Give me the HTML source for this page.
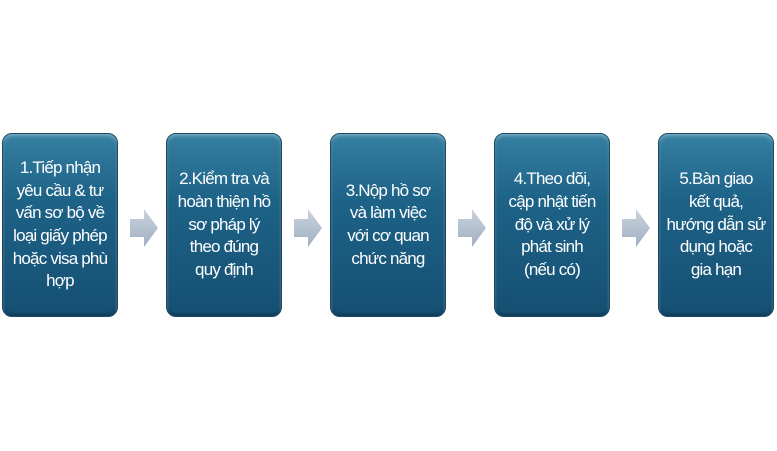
<!DOCTYPE html>
<html><head><meta charset="utf-8"><style>
body{margin:0;width:777px;height:451px;background:#fff;position:relative;overflow:hidden;font-family:"Liberation Sans Narrow","Liberation Sans",sans-serif;}
.b{position:absolute;top:133px;width:116px;height:184px;border-radius:10px;background:linear-gradient(180deg,#3580a2 0%,#1e6388 35%,#154f72 100%);border:1px solid #184a66;box-shadow:inset 0 2px 3px rgba(255,255,255,0.35),inset 0 -2px 3px rgba(0,0,0,0.3);display:flex;align-items:center;justify-content:center;text-align:center;color:#fff;font-size:17px;line-height:22.7px;letter-spacing:-0.8px;box-sizing:border-box;padding:0;white-space:nowrap;}
.a{position:absolute;top:209px;}
</style></head><body>
<div class="b" style="left:2px">1.Tiếp nhận<br>yêu cầu &amp; tư<br>vấn sơ bộ về<br>loại giấy phép<br>hoặc visa phù<br>hợp</div>
<div class="b" style="left:166px">2.Kiểm tra và<br>hoàn thiện hồ<br>sơ pháp lý<br>theo đúng<br>quy định</div>
<div class="b" style="left:330px">3.Nộp hồ sơ<br>và làm việc<br>với cơ quan<br>chức năng</div>
<div class="b" style="left:494px">4.Theo dõi,<br>cập nhật tiến<br>độ và xử lý<br>phát sinh<br>(nếu có)</div>
<div class="b" style="left:658px">5.Bàn giao<br>kết quả,<br>hướng dẫn sử<br>dụng hoặc<br>gia hạn</div>
<svg class="a" style="left:130px" width="28" height="38"><defs><linearGradient id="g" x1="0" x2="0" y1="0" y2="1"><stop offset="0" stop-color="#c9d3dd"/><stop offset="1" stop-color="#9fb0c2"/></linearGradient></defs><polygon points="0,10 14,10 14,0 28,19 14,38 14,28 0,28" fill="url(#g)"/></svg>
<svg class="a" style="left:294px" width="28" height="38"><polygon points="0,10 14,10 14,0 28,19 14,38 14,28 0,28" fill="url(#g)"/></svg>
<svg class="a" style="left:458px" width="28" height="38"><polygon points="0,10 14,10 14,0 28,19 14,38 14,28 0,28" fill="url(#g)"/></svg>
<svg class="a" style="left:622px" width="28" height="38"><polygon points="0,10 14,10 14,0 28,19 14,38 14,28 0,28" fill="url(#g)"/></svg>
</body></html>
